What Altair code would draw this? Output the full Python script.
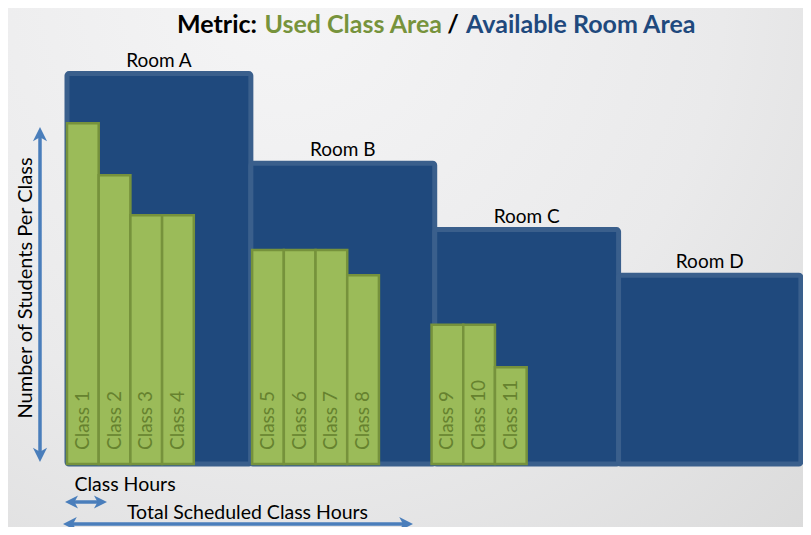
import altair as alt
import pandas as pd

# ---------------- data ----------------
rooms = ["Room A", "Room B", "Room C", "Room D"]
room_start = [0.0, 5.8, 11.6, 17.4]          # class-hour units
room_end = [5.8, 11.6, 17.4, 23.15]
room_capacity = [48.8, 37.6, 29.3, 23.6]     # students

classes = ["Class 1", "Class 2", "Class 3", "Class 4", "Class 5", "Class 6",
           "Class 7", "Class 8", "Class 9", "Class 10", "Class 11"]
class_start = [0, 1, 2, 3, 5.84, 6.84, 7.84, 8.84, 11.5, 12.5, 13.5]
class_hours = [1, 1, 1, 1, 1, 1, 1, 1, 1, 1, 1]
class_students = [42.6, 36.1, 31.1, 31.1, 26.75, 26.75, 26.75, 23.6, 17.4, 17.4, 12.1]

title_parts = ["Metric:", "Used Class Area", "/", "Available Room Area"]

# ---------------- geometry ----------------
W, H = 795, 519
X0, Y0 = 59, 456          # pixel position of data origin inside the chart
PXX, PXY = 31.7, 8.0      # pixels per unit

xs = alt.Scale(domain=[-X0 / PXX, (W - X0) / PXX], nice=False, zero=False)
ys = alt.Scale(domain=[-(H - Y0) / PXY, Y0 / PXY], nice=False, zero=False)


def px2x(p):
    return (p - 8 - X0) / PXX


def py2y(p):
    return (Y0 - (p - 8)) / PXY


FONT = "Lato"
BLUE_ARROW = "#4a7ebb"

room_df = pd.DataFrame({"room": rooms, "x": room_start, "x2": room_end,
                        "cap": room_capacity})
room_df["mid"] = (room_df["x"] + room_df["x2"]) / 2
room_df["base"] = 0.0

class_df = pd.DataFrame({"cls": classes, "x": class_start, "hours": class_hours,
                         "stud": class_students})
class_df["x2"] = class_df["x"] + class_df["hours"]
class_df["mid"] = class_df["x"] + class_df["hours"] / 2
class_df["base"] = 0.0

# background
bg = alt.Chart(pd.DataFrame({"a": [0]})).mark_rect(
    fill=alt.RadialGradient(
        gradient="radial",
        stops=[alt.GradientStop(color="#f5f5f6", offset=0),
               alt.GradientStop(color="#eaeaeb", offset=0.55),
               alt.GradientStop(color="#d9d9d9", offset=1)],
        x1=0.35, y1=0.15, r1=0, x2=0.35, y2=0.15, r2=1.0),
).encode(x=alt.value(0), x2=alt.value(W), y=alt.value(0), y2=alt.value(H))

room_rects = alt.Chart(room_df).mark_rect(
    fill="#1f497d", stroke="#3a5f8c", strokeWidth=5, cornerRadius=2
).encode(
    x=alt.X("x:Q", scale=xs, axis=None), x2="x2:Q",
    y=alt.Y("base:Q", scale=ys, axis=None), y2="cap:Q",
)

room_labels = alt.Chart(room_df).mark_text(
    font=FONT, fontSize=19, color="#000000", align="center",
    baseline="alphabetic", dy=-7
).encode(x=alt.X("mid:Q", scale=xs, axis=None),
         y=alt.Y("cap:Q", scale=ys, axis=None), text="room:N")

class_rects = alt.Chart(class_df).mark_rect(
    fill="#9bbb59", stroke="#76923c", strokeWidth=2.5
).encode(
    x=alt.X("x:Q", scale=xs, axis=None), x2="x2:Q",
    y=alt.Y("base:Q", scale=ys, axis=None), y2="stud:Q",
)

class_labels = alt.Chart(class_df).mark_text(
    font=FONT, fontSize=19, color="#66822f", angle=270, align="left",
    baseline="middle", dx=14
).encode(x=alt.X("mid:Q", scale=xs, axis=None),
         y=alt.Y("base:Q", scale=ys, axis=None), text="cls:N")

# title pieces (anchored around the slash, as in the original)
title_df = pd.DataFrame({
    "t": title_parts,
    "x": [px2x(257), px2x(442), px2x(453), px2x(466)],
    "y": [py2y(33)] * 4,
    "al": ["right", "right", "center", "left"],
})
title_layers = []
for part, color in zip(title_parts, ["#000000", "#77933c", "#000000", "#1f497d"]):
    row = title_df[title_df["t"] == part]
    title_layers.append(
        alt.Chart(row).mark_text(
            font=FONT, fontSize=25, fontWeight="bold", align=row["al"].iloc[0],
            baseline="alphabetic", color=color
        ).encode(x=alt.X("x:Q", scale=xs, axis=None),
                 y=alt.Y("y:Q", scale=ys, axis=None), text="t:N")
    )

# annotation texts
ann_df = pd.DataFrame({
    "t": ["Class  Hours", "Total Scheduled Class Hours"],
    "x": [px2x(125), px2x(247.5)],
    "y": [py2y(491), py2y(519)],
})
ann = alt.Chart(ann_df).mark_text(
    font=FONT, fontSize=19.5, color="#000000", align="center", baseline="alphabetic"
).encode(x=alt.X("x:Q", scale=xs, axis=None), y=alt.Y("y:Q", scale=ys, axis=None),
         text="t:N")

ylab_df = pd.DataFrame({"t": ["Number of Students  Per Class"],
                        "x": [px2x(26)], "y": [py2y(288)]})
ylab = alt.Chart(ylab_df).mark_text(
    font=FONT, fontSize=20, color="#000000", align="center", baseline="middle",
    angle=270
).encode(x=alt.X("x:Q", scale=xs, axis=None), y=alt.Y("y:Q", scale=ys, axis=None),
         text="t:N")

# arrows
line_df = pd.DataFrame({
    "x": [px2x(40), px2x(72), px2x(70)],
    "x2": [px2x(40), px2x(100), px2x(406)],
    "y": [py2y(134), py2y(502), py2y(524)],
    "y2": [py2y(455), py2y(502), py2y(524)],
})
lines = alt.Chart(line_df).mark_rule(color=BLUE_ARROW, strokeWidth=3.5).encode(
    x=alt.X("x:Q", scale=xs, axis=None), x2="x2:Q",
    y=alt.Y("y:Q", scale=ys, axis=None), y2="y2:Q",
)

head_df = pd.DataFrame({
    "x": [px2x(40), px2x(40), px2x(65), px2x(107), px2x(63), px2x(413)],
    "y": [py2y(127), py2y(462), py2y(502), py2y(502), py2y(524), py2y(524)],
    "a": [0, 180, 270, 90, 270, 90],
    "s": [200, 200, 170, 170, 190, 190],
})
heads = alt.Chart(head_df).mark_point(
    shape="M0,0L1,2L0,1.45L-1,2Z", filled=True, color=BLUE_ARROW, opacity=1,
    strokeWidth=0
).encode(
    x=alt.X("x:Q", scale=xs, axis=None), y=alt.Y("y:Q", scale=ys, axis=None),
    angle=alt.Angle("a:Q", scale=None),
    size=alt.Size("s:Q", scale=None, legend=None),
)

chart = alt.layer(
    bg, room_rects, class_rects, class_labels, room_labels, *title_layers, ann, ylab,
    lines, heads
).properties(
    width=W, height=H, autosize="none", padding=0
).configure_view(stroke=None)

chart.save("out.html", embed_options={"renderer": "svg", "actions": False})
